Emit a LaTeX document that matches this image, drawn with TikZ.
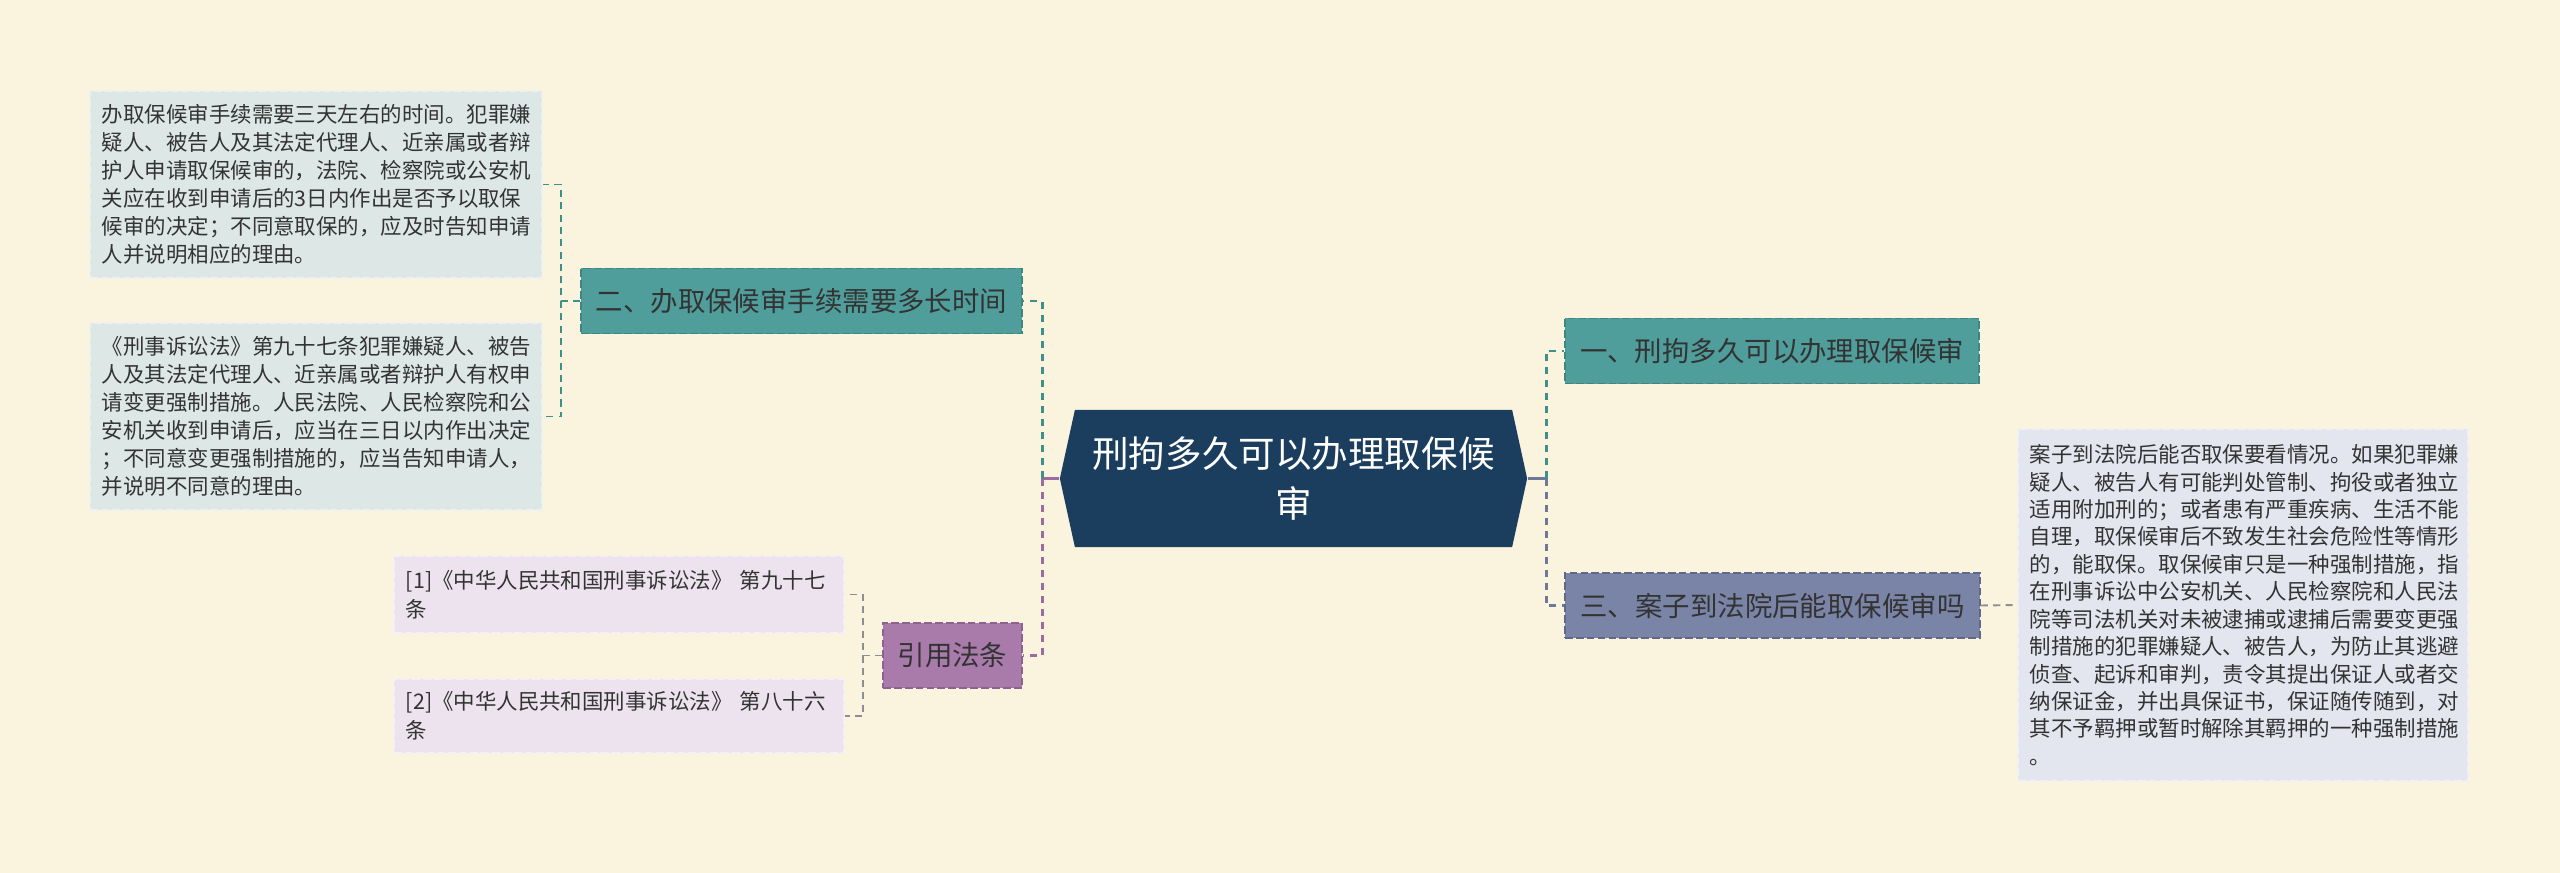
\documentclass[tikz,border=0pt]{standalone}
\usepackage{fontspec}
\setmainfont{Noto Sans CJK SC}
\definecolor{bgcream}{HTML}{FAF4DE}
\definecolor{rootblue}{HTML}{1B3E5E}
\definecolor{tealfill}{HTML}{4F9E9C}
\definecolor{tealedge}{HTML}{3F8683}
\definecolor{tealline}{HTML}{3F8F8B}
\definecolor{slatefill}{HTML}{7A84A6}
\definecolor{slateedge}{HTML}{5F6888}
\definecolor{slateline}{HTML}{6F7898}
\definecolor{purplefill}{HTML}{A87BAA}
\definecolor{purpleedge}{HTML}{8E6190}
\definecolor{purpleline}{HTML}{9C6C9E}
\definecolor{leafteal}{HTML}{DDE8E6}
\definecolor{leafpurple}{HTML}{EDE3EE}
\definecolor{leafslate}{HTML}{E3E6EE}
\definecolor{twiggray}{HTML}{8C8E96}
\definecolor{inktext}{HTML}{333333}
\tikzset{
  root/.style={rectangle, text=white, align=center, inner sep=0pt,
    minimum width=4.67cm, minimum height=1.37cm,
    font=\fontsize{10.4pt}{14.2pt}\selectfont,
    path picture={\fill[rootblue]
      ([xshift=0.15cm]path picture bounding box.north west) --
      ([xshift=-0.15cm]path picture bounding box.north east) --
      (path picture bounding box.east) --
      ([xshift=-0.15cm]path picture bounding box.south east) --
      ([xshift=0.15cm]path picture bounding box.south west) --
      (path picture bounding box.west) -- cycle;}},
  branch/.style={rectangle, line width=0.45pt, dash pattern=on 2.2pt off 0.9pt,
    minimum height=0.65cm, inner sep=0pt, text=inktext,
    font=\fontsize{7.8pt}{9pt}\selectfont},
  leaf/.style={rectangle, align=left, inner xsep=0.12cm, inner ysep=0pt,
    text=inktext, line width=0.4pt, dash pattern=on 2.2pt off 0.9pt},
  link/.style={line width=0.85pt, dash pattern=on 2pt off 1.7pt},
  twig/.style={line width=0.55pt, dash pattern=on 2pt off 1.5pt},
  stem/.style={line width=0.85pt}
}
\begin{document}
\begin{tikzpicture}[x=0.01cm,y=-0.01cm]
\fill[bgcream] (0,0) rectangle (2560,873);
\useasboundingbox (0,0) rectangle (2560,873);
\node[root] (root) at (1293.5,478.5) {刑拘多久可以办理取保候\\审};
\node[branch, fill=tealfill, draw=tealedge, minimum width=4.41cm] (n2) at (801.5,301) {二、办取保候审手续需要多长时间};
\node[branch, fill=purplefill, draw=purpleedge, minimum width=1.39cm] (law) at (952.5,655.5) {引用法条};
\node[branch, fill=tealfill, draw=tealedge, minimum width=4.14cm] (n1) at (1772,351) {一、刑拘多久可以办理取保候审};
\node[branch, fill=slatefill, draw=slateedge, minimum width=4.15cm] (n3) at (1772.5,605.5) {三、案子到法院后能取保候审吗};
\node[leaf, fill=leafteal, draw=leafteal!55!white, text width=4.28cm, minimum height=1.87cm,
  font=\fontsize{6.1pt}{7.95pt}\selectfont] (d1) at (316,184.5) {办取保候审手续需要三天左右的时间。犯罪嫌\\
疑人、被告人及其法定代理人、近亲属或者辩\\
护人申请取保候审的，法院、检察院或公安机\\
关应在收到申请后的3日内作出是否予以取保\\
候审的决定；不同意取保的，应及时告知申请\\
人并说明相应的理由。};
\node[leaf, fill=leafteal, draw=leafteal!55!white, text width=4.28cm, minimum height=1.87cm,
  font=\fontsize{6.1pt}{7.95pt}\selectfont] (d2) at (316,416.5) {《刑事诉讼法》第九十七条犯罪嫌疑人、被告\\
人及其法定代理人、近亲属或者辩护人有权申\\
请变更强制措施。人民法院、人民检察院和公\\
安机关收到申请后，应当在三日以内作出决定\\
；不同意变更强制措施的，应当告知申请人，\\
并说明不同意的理由。};
\node[leaf, fill=leafpurple, draw=leafpurple!55!white, text width=4.26cm, minimum height=0.77cm,
  font=\fontsize{6.1pt}{8.25pt}\selectfont] (r1) at (619,594.5) {[1]《中华人民共和国刑事诉讼法》 第九十七\\条};
\node[leaf, fill=leafpurple, draw=leafpurple!55!white, text width=4.26cm, minimum height=0.74cm,
  font=\fontsize{6.1pt}{8.25pt}\selectfont] (r2) at (619,716) {[2]《中华人民共和国刑事诉讼法》 第八十六\\条};
\node[leaf, fill=leafslate, draw=leafslate!55!white, text width=4.26cm, minimum height=3.52cm,
  font=\fontsize{6.1pt}{7.8pt}\selectfont] (d3) at (2243,605) {案子到法院后能否取保要看情况。如果犯罪嫌\\
疑人、被告人有可能判处管制、拘役或者独立\\
适用附加刑的；或者患有严重疾病、生活不能\\
自理，取保候审后不致发生社会危险性等情形\\
的，能取保。取保候审只是一种强制措施，指\\
在刑事诉讼中公安机关、人民检察院和人民法\\
院等司法机关对未被逮捕或逮捕后需要变更强\\
制措施的犯罪嫌疑人、被告人，为防止其逃避\\
侦查、起诉和审判，责令其提出保证人或者交\\
纳保证金，并出具保证书，保证随传随到，对\\
其不予羁押或暂时解除其羁押的一种强制措施\\
。};
\coordinate (lj) at (1042,478.5);
\coordinate (rj) at (1546,478.5);
\coordinate (dl) at (561,301);
\coordinate (rl) at (863,655.5);
\draw[stem, purpleline] (root.west) -- (lj);
\draw[link, tealline] (lj) |- (n2.east);
\draw[link, purpleline] (lj) |- (law.east);
\draw[stem, slateline] (root.east) -- (rj);
\draw[link, tealline] (rj) |- (n1.west);
\draw[link, slateline] (rj) |- (n3.west);
\draw[twig, tealline] (n2.west) -- (dl) |- (d1.east);
\draw[twig, tealline] (dl) |- (d2.east);
\draw[twig, twiggray] (law.west) -- (rl) |- (r1.east);
\draw[twig, twiggray] (rl) |- (r2.east);
\draw[twig, twiggray] (n3.east) -- (d3.west);
\end{tikzpicture}
\end{document}
